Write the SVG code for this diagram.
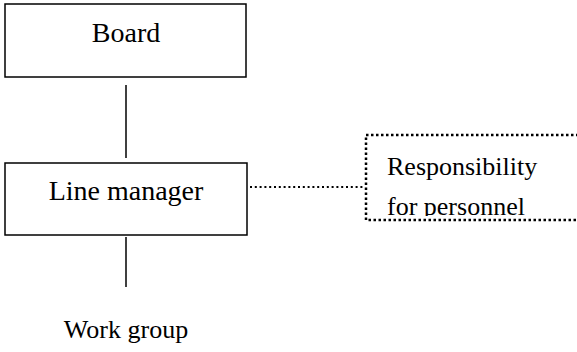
<svg xmlns="http://www.w3.org/2000/svg" width="577" height="352" viewBox="0 0 577 352">
  <style>
    .box { fill: #ffffff; stroke: #000000; stroke-width: 1.5; }
    .note { fill: none; stroke: #000000; stroke-width: 2.5; stroke-dasharray: 2.5 2.5; }
    .link { stroke: #000000; stroke-width: 1.5; fill: none; }
    .dotted { stroke: #000000; stroke-width: 2; stroke-dasharray: 2 2.8; fill: none; }
    .label { font-family: "Liberation Serif", "Times New Roman", serif; fill: #000000; text-anchor: middle; }
  </style>
  <defs>
    <clipPath id="note-clip">
      <rect x="366" y="135" width="220" height="81"/>
    </clipPath>
  </defs>

  <rect width="577" height="352" fill="#ffffff"/>

  <!-- connectors -->
  <g id="connectors">
    <line class="link" x1="126" y1="85" x2="126" y2="158"/>
    <line class="link" x1="126" y1="237" x2="126" y2="287"/>
    <line class="dotted" x1="250" y1="187" x2="363" y2="187"/>
  </g>

  <!-- board -->
  <g id="board">
    <rect class="box" x="5" y="4" width="241" height="73"/>
    <text class="label" x="126" y="42" font-size="28">Board</text>
  </g>

  <!-- line manager -->
  <g id="line-manager">
    <rect class="box" x="5" y="163" width="242" height="72"/>
    <text class="label" x="126" y="200" font-size="28">Line manager</text>
  </g>

  <!-- responsibility note -->
  <g id="responsibility">
    <rect class="note" x="366" y="135" width="230" height="85"/>
    <g clip-path="url(#note-clip)">
      <text class="label" x="387" y="175" font-size="26" text-anchor="start" style="text-anchor:start">Responsibility</text>
      <text class="label" x="387" y="215" font-size="26" text-anchor="start" style="text-anchor:start">for personnel</text>
    </g>
  </g>

  <!-- work group -->
  <g id="work-group">
    <text class="label" x="126" y="338" font-size="26">Work group</text>
  </g>
</svg>
